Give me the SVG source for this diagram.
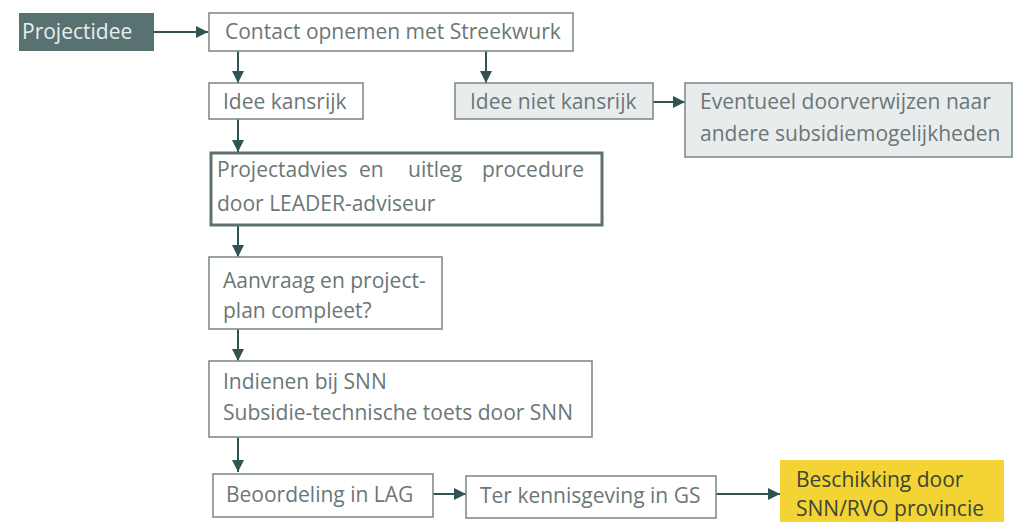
<svg xmlns="http://www.w3.org/2000/svg" width="1014" height="522" viewBox="0 0 1014 522">
<style>
.box{fill:#ffffff;stroke:#7f8d8c;stroke-width:1.6}
.grey{fill:#e9ecec;stroke:#7f8d8c;stroke-width:1.6}
.thick{fill:#ffffff;stroke:#5f7070;stroke-width:3}
.t{font-family:"Open Sans","Liberation Sans",sans-serif;font-size:21px;fill:#6a7776}
.w{fill:#e8eeee}
.y{fill:#3a4636}
.c{stroke:#2f5452;stroke-width:2;fill:none}
</style>
<defs>
<marker id="ah" viewBox="0 0 12 12" refX="12" refY="6" markerWidth="12" markerHeight="12" markerUnits="userSpaceOnUse" orient="auto">
<path d="M0,0 L12,6 L0,12 Z" fill="#2f5452"/>
</marker>
</defs>
<rect width="1014" height="522" fill="#ffffff"/>
<g id="connectors">
<line class="c" x1="154" y1="32" x2="208" y2="32" marker-end="url(#ah)"/>
<line class="c" x1="238" y1="51" x2="238" y2="83" marker-end="url(#ah)"/>
<line class="c" x1="486" y1="51" x2="486" y2="83" marker-end="url(#ah)"/>
<line class="c" x1="653" y1="102" x2="685" y2="102" marker-end="url(#ah)"/>
<line class="c" x1="238" y1="119" x2="238" y2="152" marker-end="url(#ah)"/>
<line class="c" x1="238" y1="226" x2="238" y2="257" marker-end="url(#ah)"/>
<line class="c" x1="238" y1="329" x2="238" y2="361" marker-end="url(#ah)"/>
<line class="c" x1="238" y1="437" x2="238" y2="472" marker-end="url(#ah)"/>
<line class="c" x1="433" y1="494" x2="466" y2="494" marker-end="url(#ah)"/>
<line class="c" x1="716" y1="494" x2="780" y2="494" marker-end="url(#ah)"/>
</g>
<g id="projectidee">
<rect x="19" y="13" width="135" height="38" fill="#587271"/>
<text class="t w" x="22" y="39">Projectidee</text>
</g>
<g id="contact">
<rect class="box" x="209" y="13" width="364" height="38"/>
<text class="t" x="225" y="39">Contact opnemen met Streekwurk</text>
</g>
<g id="kansrijk">
<rect class="box" x="209" y="83" width="154" height="36"/>
<text class="t" x="223" y="109">Idee kansrijk</text>
</g>
<g id="nietkansrijk">
<rect class="grey" x="455" y="83" width="198" height="36"/>
<text class="t" x="470" y="109">Idee niet kansrijk</text>
</g>
<g id="eventueel">
<rect class="grey" x="685" y="83" width="327" height="74"/>
<text class="t" x="700" y="109">Eventueel doorverwijzen naar</text>
<text class="t" x="700" y="141">andere subsidiemogelijkheden</text>
</g>
<g id="projectadvies">
<rect class="thick" x="211" y="153" width="391" height="72"/>
<text class="t" x="217" y="177">Projectadvies</text>
<text class="t" x="359" y="177">en</text>
<text class="t" x="408" y="177">uitleg</text>
<text class="t" x="584" y="177" text-anchor="end">procedure</text>
<text class="t" x="217" y="211">door LEADER-adviseur</text>
</g>
<g id="aanvraag">
<rect class="box" x="209" y="257" width="233" height="72"/>
<text class="t" x="223" y="288">Aanvraag en project-</text>
<text class="t" x="223" y="318">plan compleet?</text>
</g>
<g id="indienen">
<rect class="box" x="209" y="361" width="383" height="76"/>
<text class="t" x="223" y="389">Indienen bij SNN</text>
<text class="t" x="223" y="420">Subsidie-technische toets door SNN</text>
</g>
<g id="beoordeling">
<rect class="box" x="213" y="474" width="220" height="43"/>
<text class="t" x="226" y="502">Beoordeling in LAG</text>
</g>
<g id="kennisgeving">
<rect class="box" x="466" y="476" width="250" height="42"/>
<text class="t" x="480" y="503">Ter kennisgeving in GS</text>
</g>
<g id="beschikking">
<rect x="780" y="460" width="224" height="62" fill="#f4d334"/>
<text class="t y" x="796" y="487">Beschikking door</text>
<text class="t y" x="796" y="516">SNN/RVO provincie</text>
</g>
</svg>
